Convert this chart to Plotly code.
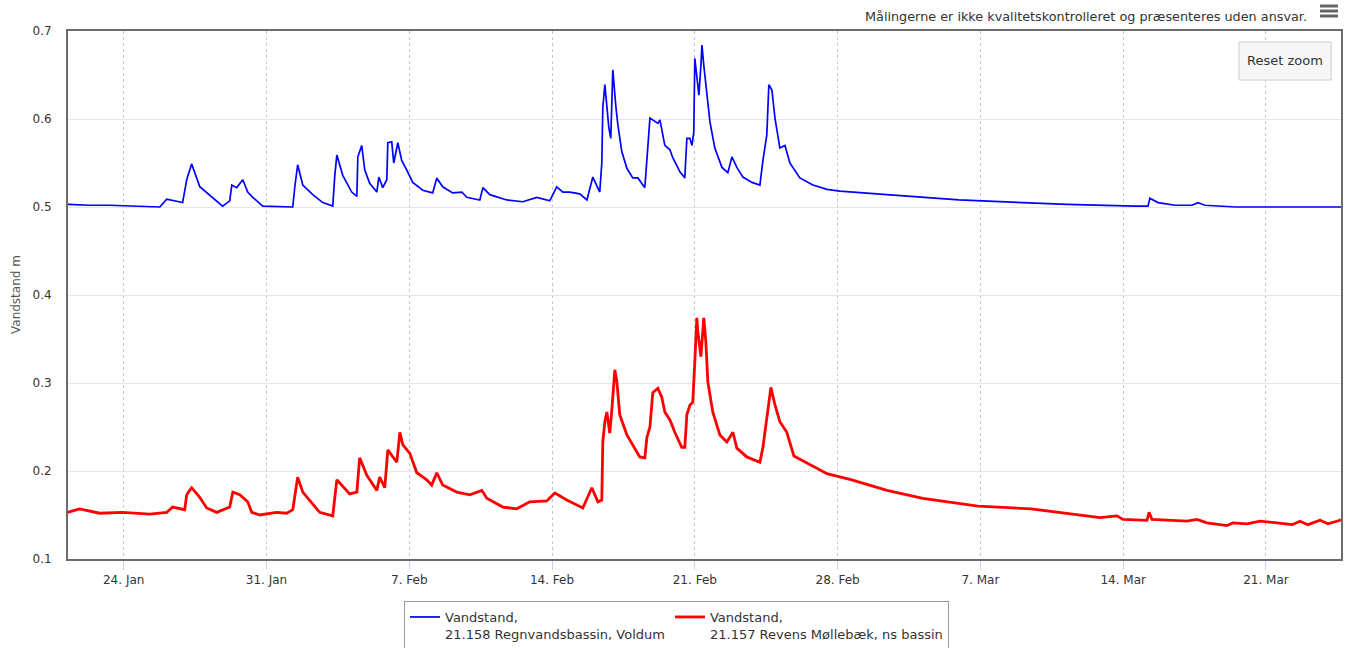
import pandas as pd
import plotly.graph_objects as go

# ---- data (days since 24 Jan 2019 00:00, level in m) ----
base_date = "2019-01-24"

blue_name = "Vandstand,<br>21.158 Regnvandsbassin, Voldum"
blue_days = [
    -2.75, -1.67, -0.69, 0.78, 1.77, 2.11, 2.50, 2.89, 3.09, 3.33, 3.73, 4.36, 4.85,
    5.20, 5.30, 5.54, 5.84, 6.08, 6.33, 6.82, 7.65, 8.29, 8.39, 8.53, 8.78, 9.27,
    9.76, 10.25, 10.35, 10.45, 10.74, 11.18, 11.43, 11.48, 11.67, 11.82, 12.06,
    12.41, 12.51, 12.70, 12.90, 12.95, 13.14, 13.24, 13.44, 13.63, 13.88, 14.17,
    14.66, 15.15, 15.35, 15.64, 16.13, 16.58, 16.82, 17.46, 17.61, 17.95, 18.78,
    19.57, 20.25, 20.89, 21.23, 21.53, 21.87, 22.36, 22.71, 23.00, 23.34, 23.44,
    23.49, 23.59, 23.69, 23.78, 23.88, 23.93, 23.98, 24.13, 24.23, 24.42, 24.67,
    24.96, 25.21, 25.55, 25.65, 25.80, 26.19, 26.29, 26.53, 26.78, 26.92, 27.27,
    27.51, 27.61, 27.76, 27.86, 27.95, 28.00, 28.10, 28.20, 28.30, 28.35, 28.44,
    28.59, 28.74, 28.98, 29.33, 29.62, 29.82, 30.06, 30.36, 30.80, 31.19, 31.34,
    31.53, 31.63, 31.78, 31.93, 32.17, 32.42, 32.66, 33.15, 33.79, 34.48, 35.11,
    37.42, 40.95, 42.96, 46.24, 49.58, 50.22, 50.31, 50.71, 51.54, 52.37, 52.67,
    53.01, 54.53, 59.68,
]
blue_level = [
    0.503, 0.502, 0.502, 0.501, 0.500, 0.509, 0.507, 0.505, 0.531, 0.549, 0.523, 0.511, 0.501,
    0.507, 0.525, 0.522, 0.531, 0.517, 0.511, 0.501, 0.500, 0.500, 0.523, 0.548, 0.525, 0.514,
    0.505, 0.501, 0.536, 0.559, 0.536, 0.517, 0.512, 0.557, 0.570, 0.542, 0.527,
    0.517, 0.534, 0.522, 0.531, 0.573, 0.574, 0.550, 0.573, 0.553, 0.542, 0.528,
    0.519, 0.516, 0.533, 0.523, 0.516, 0.517, 0.511, 0.508, 0.522, 0.514, 0.508,
    0.506, 0.511, 0.507, 0.523, 0.517, 0.517, 0.515, 0.508, 0.534, 0.517, 0.550,
    0.613, 0.639, 0.614, 0.591, 0.578, 0.619, 0.656, 0.614, 0.593, 0.563, 0.544,
    0.533, 0.533, 0.522, 0.557, 0.601, 0.595, 0.599, 0.570, 0.565, 0.556, 0.540,
    0.533, 0.578, 0.578, 0.570, 0.585, 0.669, 0.648, 0.627, 0.661, 0.684, 0.661,
    0.625, 0.597, 0.567, 0.545, 0.539, 0.557, 0.545, 0.534, 0.528, 0.525, 0.553,
    0.582, 0.639, 0.633, 0.601, 0.567, 0.570, 0.550, 0.533, 0.525, 0.520, 0.518,
    0.514, 0.508, 0.506, 0.503, 0.501, 0.501, 0.510, 0.505, 0.502, 0.502, 0.505,
    0.502, 0.500, 0.500,
]

red_name = "Vandstand,<br>21.157 Revens Møllebæk, ns bassin"
red_days = [
    -2.75, -2.16, -1.18, -0.05, 1.28, 2.11, 2.40, 2.99, 3.09, 3.33, 3.73, 4.07, 4.56,
    5.20, 5.35, 5.69, 6.08, 6.28, 6.67, 7.50, 7.99, 8.29, 8.53, 8.78, 9.61, 10.25,
    10.45, 11.08, 11.43, 11.57, 11.92, 12.41, 12.55, 12.80, 12.95, 13.14, 13.39,
    13.54, 13.68, 14.03, 14.37, 14.86, 15.10, 15.35, 15.64, 16.33, 16.97, 17.56,
    17.80, 18.59, 19.27, 19.91, 20.74, 21.14, 21.72, 22.51, 22.95, 23.25, 23.44,
    23.49, 23.59, 23.69, 23.83, 23.93, 24.08, 24.18, 24.32, 24.67, 24.96, 25.30,
    25.55, 25.65, 25.80, 25.94, 26.19, 26.38, 26.53, 26.78, 27.02, 27.36, 27.51,
    27.61, 27.76, 27.90, 28.00, 28.10, 28.15, 28.30, 28.44, 28.54, 28.64, 28.88,
    29.23, 29.57, 29.87, 30.06, 30.55, 31.19, 31.34, 31.58, 31.73, 31.93, 32.17,
    32.51, 32.86, 33.59, 34.48, 35.70, 37.42, 39.18, 41.88, 44.48, 47.86, 48.70,
    48.99, 50.17, 50.27, 50.41, 51.15, 52.13, 52.62, 53.11, 54.09, 54.38, 55.07,
    55.71, 56.54, 57.28, 57.67, 58.06, 58.65, 59.04, 59.63, 59.68,
]
red_level = [
    0.153, 0.157, 0.152, 0.153, 0.151, 0.153, 0.159, 0.156, 0.173, 0.181, 0.170, 0.158, 0.153,
    0.159, 0.176, 0.173, 0.165, 0.153, 0.150, 0.153, 0.152, 0.156, 0.193, 0.176, 0.153, 0.149,
    0.190, 0.174, 0.176, 0.215, 0.195, 0.178, 0.193, 0.181, 0.224, 0.218, 0.210,
    0.244, 0.230, 0.220, 0.198, 0.190, 0.184, 0.198, 0.184, 0.176, 0.173, 0.178,
    0.169, 0.159, 0.157, 0.165, 0.166, 0.175, 0.167, 0.158, 0.181, 0.165, 0.167,
    0.233, 0.256, 0.267, 0.243, 0.269, 0.315, 0.301, 0.264, 0.241, 0.230, 0.216,
    0.215, 0.238, 0.250, 0.289, 0.294, 0.284, 0.267, 0.258, 0.244, 0.227, 0.227,
    0.264, 0.275, 0.278, 0.324, 0.374, 0.358, 0.330, 0.374, 0.347, 0.301, 0.267,
    0.241, 0.233, 0.244, 0.226, 0.216, 0.210, 0.227, 0.266, 0.295, 0.275, 0.256,
    0.244, 0.217, 0.208, 0.197, 0.190, 0.178, 0.169, 0.160, 0.157, 0.147, 0.149,
    0.145, 0.144, 0.153, 0.145, 0.144, 0.143, 0.145, 0.141, 0.138, 0.141, 0.140,
    0.143, 0.141, 0.139, 0.143, 0.139, 0.144, 0.140, 0.144, 0.145,
]

x_start_day, x_end_day = -2.73, 59.68
y_ticks = [0.1, 0.2, 0.3, 0.4, 0.5, 0.6, 0.7]

title_text = "Målingerne er ikke kvalitetskontrolleret og præsenteres uden ansvar."
y_title = "Vandstand m"
button_text = "Reset zoom"

# ---- build ----
base = pd.Timestamp(base_date)
to_time = lambda days: base + pd.to_timedelta(pd.Series(days), unit="D")

W, H = 1352, 648
L, R, T, B = 68, 11, 31, 89
pw, ph = W - L - R, H - T - B
px = lambda x: (x - L) / pw
py = lambda y: (H - B - y) / ph

FONT = "DejaVu Sans"

fig = go.Figure()
fig.add_trace(go.Scatter(x=to_time(blue_days), y=blue_level, mode="lines",
                         name=blue_name, line=dict(color="#0000ff", width=1.7)))
fig.add_trace(go.Scatter(x=to_time(red_days), y=red_level, mode="lines",
                         name=red_name, line=dict(color="#ff0000", width=2.8)))

fig.update_layout(
    width=W, height=H,
    margin=dict(l=L, r=R, t=T, b=B, autoexpand=False),
    paper_bgcolor="white", plot_bgcolor="white",
    font=dict(family=FONT, size=12, color="#333333"),
    showlegend=True,
    legend=dict(
        orientation="h", x=px(404), xanchor="left", y=py(601), yanchor="top",
        bordercolor="#999999", borderwidth=1, bgcolor="white",
        font=dict(family=FONT, size=13, color="#333333"),
        valign="top", itemwidth=30,
        traceorder="normal",
    ),
    xaxis=dict(
        type="date",
        range=[base + pd.Timedelta(days=x_start_day), base + pd.Timedelta(days=x_end_day)],
        tick0=base_date, dtick=7 * 86400000, tickformat="%-d. %b",
        showgrid=True, gridcolor="#c8c8c8", griddash="dot", gridwidth=1,
        ticks="outside", ticklen=9, tickcolor="#ccd6eb",
        showline=True, linecolor="#6b6b6b", linewidth=2, mirror=True,
        tickfont=dict(size=12, color="#333333"),
        zeroline=False,
    ),
    yaxis=dict(
        range=[0.1, 0.7], tickvals=y_ticks, tickformat=".1f",
        showgrid=True, gridcolor="#e6e6e6", gridwidth=1,
        showline=True, linecolor="#6b6b6b", linewidth=2, mirror=True,
        ticks="", ticklabelstandoff=12,
        tickfont=dict(size=12, color="#333333"),
        zeroline=False,
    ),
)

# disclaimer text
fig.add_annotation(text=title_text, xref="paper", yref="paper",
                   x=px(1309), y=py(17), xanchor="right", yanchor="middle",
                   showarrow=False, font=dict(family=FONT, size=12.8, color="#333333"))
# y-axis title
fig.add_annotation(text=y_title, xref="paper", yref="paper",
                   x=px(16), y=py(295), xanchor="center", yanchor="middle",
                   textangle=-90, showarrow=False,
                   font=dict(family=FONT, size=12, color="#555555"))
# hamburger menu icon
for yy in (6, 11, 16):
    fig.add_shape(type="line", xref="paper", yref="paper",
                  x0=px(1320), x1=px(1338), y0=py(yy), y1=py(yy),
                  line=dict(color="#666666", width=3))
# reset zoom button
fig.add_shape(type="rect", xref="paper", yref="paper",
              x0=px(1239), x1=px(1331), y0=py(80), y1=py(42),
              fillcolor="#f7f7f7", line=dict(color="#cccccc", width=1))
fig.add_annotation(text=button_text, xref="paper", yref="paper",
                   x=px(1285), y=py(60), xanchor="center", yanchor="middle",
                   showarrow=False, font=dict(family=FONT, size=13, color="#333333"))

fig.write_html("out.html", config={"displayModeBar": False})
